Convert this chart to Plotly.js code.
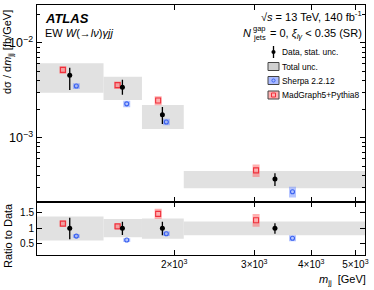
<!DOCTYPE html>
<html>
<head>
<meta charset="utf-8">
<script src="https://cdn.plot.ly/plotly-3.0.1.min.js"></script>
<style>html,body{margin:0;padding:0;background:#fff;}#chart{width:374px;height:290px;}</style>
</head>
<body>
<div id="chart"></div>
<script>
// ---- data ----
const binEdges = [1000, 1400, 1700, 2100, 5250];
const xData = [1180, 1540, 1885, 3330];
const xMG = [1140, 1503, 1845, 3027];
const xSherpa = [1220, 1574, 1923, 3639];

const dataVal = [4.57e-3, 3.42e-3, 1.75e-3, 3.67e-4];
const dataStatLo = [3.20e-3, 2.84e-3, 1.40e-3, 3.10e-4];
const dataStatHi = [5.46e-3, 4.08e-3, 2.11e-3, 4.22e-4];
const totLo = [2.98e-3, 2.51e-3, 1.24e-3, 2.93e-4];
const totHi = [6.11e-3, 4.41e-3, 2.22e-3, 4.47e-4];
const sherpaVal = [3.52e-3, 2.28e-3, 1.47e-3, 2.70e-4];
const mgVal = [5.20e-3, 3.59e-3, 2.47e-3, 4.54e-4];
const sherpaRelUnc = [0.07, 0.08, 0.08, 0.13];
const mgRelUnc = [0.09, 0.09, 0.11, 0.15];

const ratioStatLo = [0.64, 0.78, 0.77, 0.82];
const ratioStatHi = [1.34, 1.21, 1.21, 1.16];
const ratioTotLo = [0.60, 0.70, 0.65, 0.77];
const ratioTotHi = [1.38, 1.30, 1.32, 1.22];
const ratioSherpa = [0.74, 0.61, 0.82, 0.67];
const ratioMG = [1.15, 1.06, 1.47, 1.26];
const ratioSherpaUnc = [0.06, 0.06, 0.08, 0.10];
const ratioMGUnc = [0.10, 0.09, 0.17, 0.21];

const xTickVals = [2000, 3000, 4000, 5000];
const xTickText = ['2×10<sup>3</sup>', '3×10<sup>3</sup>', '4×10<sup>3</sup>', '5×10<sup>3</sup>'];

// ---- styles ----
const FONT = 'Liberation Sans, Arial, Helvetica, sans-serif';
const GREY = '#e1e1e1';
const RED = '#f0303c';
const RED_BAND = 'rgba(255,110,110,0.55)';
const BLUE = '#3a62f0';
const BLUE_BAND = 'rgba(110,140,255,0.5)';

const traces = [];
function boxes(lo, hi, xa, ya) {
  for (let i = 0; i < lo.length; i++) {
    const a = binEdges[i], b = binEdges[i + 1];
    traces.push({x: [a, b, b, a, a], y: [lo[i], lo[i], hi[i], hi[i], lo[i]],
      xaxis: xa, yaxis: ya, type: 'scatter', mode: 'lines', fill: 'toself',
      fillcolor: GREY, line: {width: 0, color: GREY}, hoverinfo: 'skip', showlegend: false});
  }
}
function mc(xs, vals, up, dn, bandColor, color, symbol, size, xa, ya) {
  traces.push({x: xs, y: vals, xaxis: xa, yaxis: ya, type: 'scatter', mode: 'markers',
    marker: {size: 0.1, color: 'rgba(0,0,0,0)'},
    error_y: {type: 'data', array: up, arrayminus: dn, symmetric: false, thickness: 7, width: 0, color: bandColor},
    showlegend: false, hoverinfo: 'skip'});
  traces.push({x: xs, y: vals, xaxis: xa, yaxis: ya, type: 'scatter', mode: 'markers',
    marker: {symbol: symbol, size: size, color: color, line: {width: 1.1, color: color}},
    showlegend: false});
}
function dataPts(xs, vals, lo, hi, xa, ya) {
  traces.push({x: xs, y: vals, xaxis: xa, yaxis: ya, type: 'scatter', mode: 'markers',
    marker: {symbol: 'circle', size: 5, color: '#000'},
    error_y: {type: 'data', array: vals.map((v, i) => hi[i] - v), arrayminus: vals.map((v, i) => v - lo[i]),
      symmetric: false, thickness: 1.3, width: 0, color: '#000'},
    showlegend: false});
}

// main panel
boxes(totLo, totHi, 'x2', 'y');
mc(xMG, mgVal, mgVal.map((v, i) => v * mgRelUnc[i]), mgVal.map((v, i) => v * mgRelUnc[i]), RED_BAND, RED, 'square-open', 5, 'x2', 'y');
mc(xSherpa, sherpaVal, sherpaVal.map((v, i) => v * sherpaRelUnc[i]), sherpaVal.map((v, i) => v * sherpaRelUnc[i]), BLUE_BAND, BLUE, 'circle-open', 4, 'x2', 'y');
dataPts(xData, dataVal, dataStatLo, dataStatHi, 'x2', 'y');

// ratio panel
const ones = dataVal.map(() => 1);
boxes(ratioTotLo, ratioTotHi, 'x', 'y2');
mc(xMG, ratioMG, ratioMGUnc, ratioMGUnc, RED_BAND, RED, 'square-open', 5, 'x', 'y2');
mc(xSherpa, ratioSherpa, ratioSherpaUnc, ratioSherpaUnc, BLUE_BAND, BLUE, 'circle-open', 4, 'x', 'y2');
dataPts(xData, ones, ratioStatLo, ratioStatHi, 'x', 'y2');

// ---- layout helpers (pixel -> paper) ----
const ML = 37, MR = 9, MT = 5, MB = 35, W = 374, H = 290;
const PW = W - ML - MR, PH = H - MT - MB;
const px = x => (x - ML) / PW;
const py = y => (H - MB - y) / PH;

const splitY = py(202.3);

const axisCommon = {showline: true, linecolor: '#000', linewidth: 1, mirror: 'ticks',
  ticks: 'inside', ticklen: 5, tickcolor: '#000', tickwidth: 1, showgrid: false, zeroline: false,
  tickfont: {family: FONT, size: 10, color: '#000'}};

const legY = [52, 66.5, 80.5, 95];
const legX = 273.5;
const shapes = [];
// legend: data
shapes.push({type: 'line', xref: 'paper', yref: 'paper', x0: px(legX), x1: px(legX), y0: py(legY[0] - 6), y1: py(legY[0] + 6), line: {color: '#000', width: 1.3}});
shapes.push({type: 'circle', xref: 'paper', yref: 'paper', x0: px(legX - 1.8), x1: px(legX + 1.8), y0: py(legY[0] - 1.8), y1: py(legY[0] + 1.8), fillcolor: '#000', line: {color: '#000', width: 0.5}});
// total unc
function legBox(yc, fill) {
  shapes.push({type: 'rect', xref: 'paper', yref: 'paper', x0: px(legX - 5.5), x1: px(legX + 5.5), y0: py(yc + 4), y1: py(yc - 4), fillcolor: fill, line: {color: '#444', width: 1}});
}
legBox(legY[1], '#d0d0d0');
legBox(legY[2], 'rgba(150,170,255,0.8)');
shapes.push({type: 'circle', xref: 'paper', yref: 'paper', x0: px(legX - 1.6), x1: px(legX + 1.6), y0: py(legY[2] - 1.6), y1: py(legY[2] + 1.6), line: {color: BLUE, width: 1}});
legBox(legY[3], 'rgba(255,170,170,0.9)');
shapes.push({type: 'rect', xref: 'paper', yref: 'paper', x0: px(legX - 2), x1: px(legX + 2), y0: py(legY[3] - 2), y1: py(legY[3] + 2), line: {color: RED, width: 1}});

const legNames = ['Data, stat. unc.', 'Total unc.', 'Sherpa 2.2.12', 'MadGraph5+Pythia8'];
const ann = [];
legNames.forEach((t, i) => ann.push({xref: 'paper', yref: 'paper', x: px(281), y: py(legY[i]), xanchor: 'left', yanchor: 'middle',
  text: t, showarrow: false, borderpad: 0, font: {family: FONT, size: 8.4, color: '#000'}}));

ann.push({xref: 'paper', yref: 'paper', x: px(44), y: py(18), xanchor: 'left', yanchor: 'middle', showarrow: false, borderpad: 0,
  text: '<b><i>ATLAS</i></b>', font: {family: FONT, size: 13, color: '#000'}});
ann.push({xref: 'paper', yref: 'paper', x: px(44), y: py(33), xanchor: 'left', yanchor: 'middle', showarrow: false, borderpad: 0,
  text: 'EW <i>W</i>(→<i>lν</i>)<i>γjj</i>', font: {family: FONT, size: 11, color: '#000'}});
ann.push({xref: 'paper', yref: 'paper', x: px(363), y: py(16), xanchor: 'right', yanchor: 'middle', showarrow: false, borderpad: 0,
  text: '√<i>s</i> = 13 TeV, 140 fb<sup>-1</sup>', font: {family: FONT, size: 11, color: '#000'}});
ann.push({xref: 'paper', yref: 'paper', x: px(363), y: py(34), xanchor: 'right', yanchor: 'middle', showarrow: false, borderpad: 0,
  text: '= 0, <i>ξ</i><sub><i>lγ</i></sub> < 0.35 (SR)', font: {family: FONT, size: 11, color: '#000'}});
ann.push({xref: 'paper', yref: 'paper', x: px(252), y: py(33), xanchor: 'right', yanchor: 'middle', showarrow: false, borderpad: 0,
  text: '<i>N</i>', font: {family: FONT, size: 11, color: '#000'}});
ann.push({xref: 'paper', yref: 'paper', x: px(252), y: py(28.5), xanchor: 'left', yanchor: 'middle', showarrow: false, borderpad: 0,
  text: 'gap', font: {family: FONT, size: 7.5, color: '#000'}});
ann.push({xref: 'paper', yref: 'paper', x: px(252), y: py(37.5), xanchor: 'left', yanchor: 'middle', showarrow: false, borderpad: 0,
  text: 'jets', font: {family: FONT, size: 7.5, color: '#000'}});
// axis titles
ann.push({xref: 'paper', yref: 'paper', x: px(8), y: py(52), xanchor: 'center', yanchor: 'middle', showarrow: false, textangle: -90, borderpad: 0,
  text: 'dσ / d<i>m</i><sub>jj</sub> [fb/GeV]', font: {family: FONT, size: 11, color: '#000'}});
ann.push({xref: 'paper', yref: 'paper', x: px(8), y: py(236), xanchor: 'center', yanchor: 'middle', showarrow: false, textangle: -90, borderpad: 0,
  text: 'Ratio to Data', font: {family: FONT, size: 11, color: '#000'}});
ann.push({xref: 'paper', yref: 'paper', x: px(367), y: py(280), xanchor: 'right', yanchor: 'middle', showarrow: false, borderpad: 0,
  text: '<i>m</i><sub>jj</sub>  [GeV]', font: {family: FONT, size: 11, color: '#000'}});

const layout = {
  width: W, height: H, margin: {l: ML, r: MR, t: MT, b: MB},
  paper_bgcolor: '#fff', plot_bgcolor: '#fff', showlegend: false,
  font: {family: FONT, color: '#000'},
  xaxis: Object.assign({}, axisCommon, {type: 'log', anchor: 'y2', range: [Math.log10(binEdges[0]), Math.log10(binEdges[4])],
    tickvals: xTickVals, ticktext: xTickText}),
  xaxis2: Object.assign({}, axisCommon, {type: 'log', anchor: 'y', matches: 'x', range: [Math.log10(binEdges[0]), Math.log10(binEdges[4])],
    tickvals: xTickVals, showticklabels: false}),
  yaxis: Object.assign({}, axisCommon, {type: 'log', domain: [splitY, 1], anchor: 'x2', range: [-3.68, -1.60],
    dtick: 1, exponentformat: 'power', showexponent: 'all', ticklabelstandoff: 1,
    minor: {ticks: 'inside', ticklen: 3, tickcolor: '#000', dtick: 'D1', showgrid: false}}),
  yaxis2: Object.assign({}, axisCommon, {domain: [0, splitY], anchor: 'x', range: [0.12, 1.85],
    tickvals: [0.5, 1, 1.5], ticktext: ['0.5', '1', '1.5']}),
  shapes: shapes, annotations: ann
};

Plotly.newPlot('chart', traces, layout, {staticPlot: true, displayModeBar: false});
</script>
</body>
</html>
